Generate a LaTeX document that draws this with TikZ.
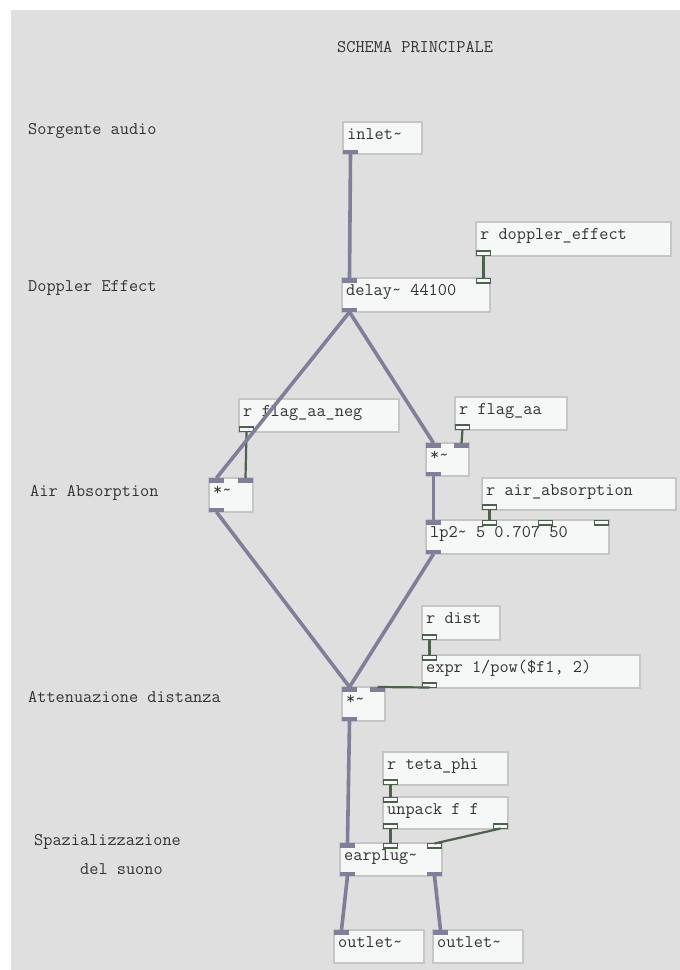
\documentclass[tikz,border=0pt]{standalone}
\usepackage{fontspec}
\definecolor{canvas}{HTML}{DFDFDF}
\definecolor{boxfill}{HTML}{F6F7F7}
\definecolor{boxline}{HTML}{C6C6C6}
\definecolor{sigcol}{HTML}{807F99}
\definecolor{ctlcol}{HTML}{4E604E}
\definecolor{txtcol}{HTML}{333333}
\tikzset{
  pdbox/.style={draw=boxline, line width=1.5pt, fill=boxfill, inner sep=0pt, outer sep=0pt},
  pdtext/.style={font=\ttfamily\fontsize{17.8}{20}\selectfont, text=txtcol, inner sep=0pt},
  sigport/.style={fill=sigcol, draw=none, minimum width=15pt, minimum height=4.5pt, inner sep=0pt, outer sep=0pt},
  ctlport/.style={fill=boxfill, draw=ctlcol, line width=1.6pt, minimum width=14pt, minimum height=4.5pt, inner sep=0pt, outer sep=0pt},
  sigcable/.style={draw=sigcol, line width=3.6pt},
  ctlcable/.style={draw=ctlcol, line width=2.2pt},
}
% object box: name, left, top, right, bottom, text
\newcommand\pdobj[6]{%
  \node[pdbox, anchor=north west, minimum width={(#4-#2)*1pt}, minimum height={(#5-#3)*1pt}] (#1) at (#2,#3) {};
  \node[pdtext, anchor=base west] (#1-txt) at ([xshift=4pt,yshift=-17pt]#1.north west) {#6};
}
% port on the top edge: name, style, left, top
\newcommand\pdin[4]{\node[#2, anchor=north west] (#1) at (#3,#4) {};}
% port on the bottom edge: name, style, left, bottom
\newcommand\pdout[4]{\node[#2, anchor=south west] (#1) at (#3,#4) {};}
\begin{document}
\begin{tikzpicture}[x=1pt,y=-1pt]
\useasboundingbox (0,0) rectangle (680,970);
\fill[white] (0,0) rectangle (680,970);
\fill[canvas] (11,10) rectangle (680,970);

% comments
\node[pdtext, anchor=base west] (title) at (337,52) {SCHEMA PRINCIPALE};
\node[pdtext, anchor=base west] (c1) at (28,134) {Sorgente audio};
\node[pdtext, anchor=base west] (c2) at (28,291) {Doppler Effect};
\node[pdtext, anchor=base west] (c3) at (30,496) {Air Absorption};
\node[pdtext, anchor=base west] (c4) at (28,702) {Attenuazione distanza};
\node[pdtext, anchor=base west] (c5) at (34,845) {Spazializzazione};
\node[pdtext, anchor=base west] (c6) at (80,874) {del suono};

% objects
\pdobj{inlet}{343}{122}{422}{154}{inlet\textasciitilde}
\pdobj{delay}{342}{278}{490}{312}{delay\textasciitilde{} 44100}
\pdobj{rdop}{476}{222}{671}{256}{r doppler\_effect}
\pdobj{rneg}{239}{399}{399}{432}{r flag\_aa\_neg}
\pdobj{mulL}{209}{478}{253}{512}{*\textasciitilde}
\pdobj{raa}{455}{397}{567}{430}{r flag\_aa}
\pdobj{mulR}{426}{443}{469}{476}{*\textasciitilde}
\pdobj{rair}{482}{478}{676}{510}{r air\_absorption}
\pdobj{lp}{426}{520}{609}{554}{lp2\textasciitilde{} 5 0.707 50}
\pdobj{rdist}{422}{606}{500}{640}{r dist}
\pdobj{expr}{422}{655}{640}{688}{expr 1/pow(\$f1, 2)}
\pdobj{mulB}{342}{687}{385}{721}{*\textasciitilde}
\pdobj{rteta}{383}{752}{508}{785}{r teta\_phi}
\pdobj{unpack}{383}{797}{508}{829}{unpack f f}
\pdobj{ear}{340}{843}{442}{876}{earplug\textasciitilde}
\pdobj{outL}{334}{930}{424}{963}{outlet\textasciitilde}
\pdobj{outR}{433}{930}{523}{963}{outlet\textasciitilde}

% inlets and outlets
\pdout{inlet-o0}{sigport}{343}{154}
\pdin{delay-i0}{sigport}{342}{278}
\pdin{delay-i1}{ctlport}{476.5}{278.5}
\pdout{delay-o0}{sigport}{342}{312}
\pdout{rdop-o0}{ctlport}{476.5}{255.5}
\pdout{rneg-o0}{ctlport}{239.5}{431.5}
\pdin{mulL-i0}{sigport}{209}{478}
\pdin{mulL-i1}{sigport}{238}{478}
\pdout{mulL-o0}{sigport}{209}{512}
\pdout{raa-o0}{ctlport}{455.5}{429.5}
\pdin{mulR-i0}{sigport}{426}{443}
\pdin{mulR-i1}{sigport}{454}{443}
\pdout{mulR-o0}{sigport}{426}{476}
\pdout{rair-o0}{ctlport}{482.5}{509.5}
\pdin{lp-i0}{sigport}{426}{520}
\pdin{lp-i1}{ctlport}{482.5}{520.5}
\pdin{lp-i2}{ctlport}{538.5}{520.5}
\pdin{lp-i3}{ctlport}{594.5}{520.5}
\pdout{lp-o0}{sigport}{426}{554}
\pdout{rdist-o0}{ctlport}{422.5}{639.5}
\pdin{expr-i0}{ctlport}{422.5}{655.5}
\pdout{expr-o0}{ctlport}{422.5}{687.5}
\pdin{mulB-i0}{sigport}{342}{687}
\pdin{mulB-i1}{sigport}{370}{687}
\pdout{mulB-o0}{sigport}{342}{721}
\pdout{rteta-o0}{ctlport}{383.5}{784.5}
\pdin{unpack-i0}{ctlport}{383.5}{797.5}
\pdout{unpack-o0}{ctlport}{383.5}{828.5}
\pdout{unpack-o1}{ctlport}{493.5}{828.5}
\pdin{ear-i0}{sigport}{340}{843}
\pdin{ear-i1}{ctlport}{383.5}{843.5}
\pdin{ear-i2}{ctlport}{427.5}{843.5}
\pdout{ear-o0}{sigport}{340}{876}
\pdout{ear-o1}{sigport}{427}{876}
\pdin{outL-i0}{sigport}{334}{930}
\pdin{outR-i0}{sigport}{433}{930}

% control connections
\draw[ctlcable] (rdop-o0.south) -- (delay-i1.north);
\draw[ctlcable] (rneg-o0.south) -- (mulL-i1.north);
\draw[ctlcable] (raa-o0.south) -- (mulR-i1.north);
\draw[ctlcable] (rair-o0.south) -- (lp-i1.north);
\draw[ctlcable] (rdist-o0.south) -- (expr-i0.north);
\draw[ctlcable] (expr-o0.south) -- (mulB-i1.north);
\draw[ctlcable] (rteta-o0.south) -- (unpack-i0.north);
\draw[ctlcable] (unpack-o0.south) -- (ear-i1.north);
\draw[ctlcable] (unpack-o1.south) -- (ear-i2.north);

% signal connections
\draw[sigcable] (inlet-o0.south) -- (delay-i0.north);
\draw[sigcable] (delay-o0.south) -- (mulL-i0.north);
\draw[sigcable] (delay-o0.south) -- (mulR-i0.north);
\draw[sigcable] (mulR-o0.south) -- (lp-i0.north);
\draw[sigcable] (mulL-o0.south) -- (mulB-i0.north);
\draw[sigcable] (lp-o0.south) -- (mulB-i0.north);
\draw[sigcable] (mulB-o0.south) -- (ear-i0.north);
\draw[sigcable] (ear-o0.south) -- (outL-i0.north);
\draw[sigcable] (ear-o1.south) -- (outR-i0.north);
\end{tikzpicture}
\end{document}
